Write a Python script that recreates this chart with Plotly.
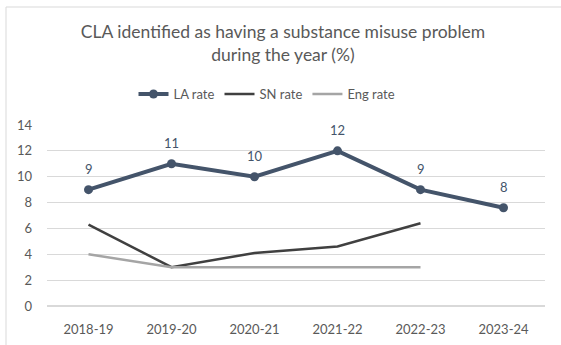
import plotly.graph_objects as go

years = ["2018-19", "2019-20", "2020-21", "2021-22", "2022-23", "2023-24"]
la_rate = [9.0, 11.0, 10.0, 12.0, 9.0, 7.6]
sn_rate = [6.3, 3.0, 4.1, 4.6, 6.4, None]
eng_rate = [4.0, 3.0, 3.0, 3.0, 3.0, None]
la_labels = ["9", "11", "10", "12", "9", "8"]
y_ticks = [0, 2, 4, 6, 8, 10, 12, 14]

FONT = "Lato"
GREY = "#595959"

fig = go.Figure()
fig.add_trace(go.Scatter(
    x=years, y=la_rate, name="LA rate", mode="lines+markers",
    line=dict(color="#44546a", width=4), marker=dict(size=9, color="#44546a"),
))
fig.add_trace(go.Scatter(
    x=years, y=sn_rate, name="SN rate", mode="lines",
    line=dict(color="#404040", width=2.5),
))
fig.add_trace(go.Scatter(
    x=years, y=eng_rate, name="Eng rate", mode="lines",
    line=dict(color="#a5a5a5", width=2.5),
))

for xv, yv, lab in zip(years, la_rate, la_labels):
    fig.add_annotation(x=xv, y=yv, text=lab, showarrow=False, yshift=21,
                       font=dict(color="#44546a", size=13, family=FONT))

L, R, T, B = 47, 16, 125, 39
W, H = 561, 345
pw, ph = W - L - R, H - T - B

def px_x(p):
    return (p - L) / pw

def px_y(p):
    return (H - B - p) / ph

fig.add_shape(type="rect", xref="paper", yref="paper",
              x0=px_x(6), x1=px_x(580), y0=px_y(360), y1=px_y(7),
              line=dict(color="#d9d9d9", width=1), fillcolor="rgba(0,0,0,0)")

fig.update_layout(
    width=W, height=H,
    margin=dict(l=L, r=R, t=T, b=B, autoexpand=False),
    paper_bgcolor="white", plot_bgcolor="white",
    font=dict(family=FONT, color=GREY, size=13),
    title=dict(text="CLA identified as having a substance misuse problem<br>during the year (%)",
               x=px_x(283), xref="paper", xanchor="center", y=1 - 38 / H, yanchor="top",
               font=dict(size=17.5, color=GREY, family=FONT)),
    showlegend=True,
    legend=dict(orientation="h", x=px_x(267), xanchor="center", xref="paper",
                y=px_y(79), yanchor="top", yref="paper",
                font=dict(size=13, color=GREY, family=FONT),
                itemwidth=30, bgcolor="rgba(0,0,0,0)"),
    xaxis=dict(type="category", range=[-0.5, 5.5], showgrid=False, showline=False,
               ticks="", tickfont=dict(size=13, color=GREY), ticklabelstandoff=14,
               fixedrange=True, automargin=False),
    yaxis=dict(range=[0, 14], tickvals=y_ticks, showgrid=True, gridcolor="#d9d9d9",
               gridwidth=1, zeroline=True, zerolinecolor="#d9d9d9", showline=False,
               ticks="", tickfont=dict(size=13, color=GREY), ticklabelstandoff=14,
               automargin=False),
)

fig.write_html("out.html")
